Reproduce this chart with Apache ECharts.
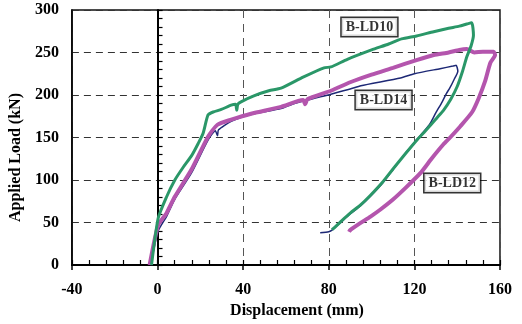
<!DOCTYPE html>
<html>
<head>
<meta charset="utf-8">
<title>Applied Load vs Displacement</title>
<script src="https://cdn.jsdelivr.net/npm/echarts@6/dist/echarts.min.js"></script>
<style>
  html, body { margin: 0; padding: 0; background: #fff; }
  #chart { width: 522px; height: 324px; }
</style>
</head>
<body>
<div id="chart"></div>
<script>
// B-LD10 (green): loading branch then unloading
const ld10X = [-2.8, 0.3, 4.2, 8.1, 12, 16, 19, 21.3, 23.6, 26, 29.8, 34.4, 36.5, 37, 37.5, 39, 45, 52, 57.7, 68, 77.8, 81, 88.7, 100, 108, 114, 121, 129, 136, 141, 144.5, 146.8,
               147.6, 146.5, 144.5, 142.5, 140, 137, 133.6, 130.5, 127.4, 124.5, 121.5, 115.5, 110, 105, 99.5, 95, 90, 86, 82.4, 81.5];
const ld10Y = [0, 55, 80, 100, 115, 129, 143, 155, 176.5, 180, 183, 188, 189, 182, 189, 192, 199, 205, 208, 221, 232, 233, 242, 253, 260, 266, 269.5, 274.5, 278.5, 281, 283.5, 285,
               270.6, 258, 245, 228, 210, 195, 182, 173, 164, 156, 148, 130, 113, 97, 82, 71, 61, 52, 43.5, 41.5];

// B-LD12 (magenta)
const ld12X = [-3.7, 0.3, 4.2, 8, 15.8, 23.6, 28, 34.4, 43.7, 57.7, 68, 69, 70, 81, 90, 100, 110, 121, 129, 136, 141, 144.5,
               148, 152, 157, 157.7, 155.5, 153, 150, 147, 141.4, 136.7, 133.6, 128, 122.8, 116, 110, 104, 99.5, 94, 90, 89.5];
const ld12Y = [0, 47, 61, 80, 112, 151, 165, 171, 178, 186, 194, 189, 195, 205, 215, 224, 232, 241, 247, 250, 253, 254,
               250, 251, 251, 247, 238, 216, 196, 180, 163, 150, 142, 125, 108, 91, 77, 65, 57, 48, 41, 39];

// B-LD14 (navy)
const ld14X = [-3.3, 0.3, 4.2, 8, 15.8, 23.6, 27, 28, 28.5, 34.4, 43.7, 57.7, 64, 81, 90, 95, 113.5, 120, 132, 138, 139.5,
               140.3, 138.5, 136.5, 135, 133, 130, 127, 121, 115, 110, 105, 99.5, 95, 90, 86, 82, 80, 76];
const ld14Y = [0, 40, 57, 77, 108, 147, 158, 152, 159, 169, 177, 184, 190, 201, 207, 211, 220, 225, 231, 234, 235,
               228, 218, 208, 202, 192, 179, 165, 147, 129, 112, 96, 81, 70, 60, 51, 42, 39, 38];

const labelNames = ['B-LD10', 'B-LD14', 'B-LD12'];
const labelX = [99, 105.6, 137.7];
const labelY = [280, 194, 96.5];

const xTicks = [-40, 0, 40, 80, 120, 160];
const yTicks = [0, 50, 100, 150, 200, 250, 300];

const serif = '"Liberation Serif", "DejaVu Serif", serif';

function pairs(xs, ys) {
    return xs.map((x, i) => [x, ys[i]]);
}

function curve(name, xs, ys, color, width) {
    return {
        name: name,
        type: 'line',
        data: pairs(xs, ys),
        showSymbol: false,
        smooth: 0.2,
        xAxisIndex: 0,
        yAxisIndex: 0,
        lineStyle: { color: color, width: width },
        itemStyle: { color: color },
    };
}

const chart = echarts.init(document.getElementById('chart'));

const option = {
    animation: false,
    grid: {
        left: 70, right: 22, top: 10, bottom: 59,
        show: true, borderColor: '#111', borderWidth: 1.5, backgroundColor: '#fff',
    },
    xAxis: [
        {
            type: 'value',
            min: xTicks[0], max: xTicks[xTicks.length - 1], interval: 40,
            name: 'Displacement (mm)',
            nameLocation: 'middle',
            nameGap: 37,
            nameTextStyle: { fontFamily: serif, fontWeight: 'bold', fontSize: 16, color: '#000', padding: [0, 0, 0, 22] },
            axisLine: { show: true, onZero: false, lineStyle: { color: '#000', width: 2 } },
            axisTick: { show: true, inside: false, length: 5, lineStyle: { color: '#000', width: 1.5 } },
            axisLabel: { fontFamily: serif, fontWeight: 'bold', fontSize: 16, color: '#000', margin: 17 },
            splitLine: { show: true, lineStyle: { color: '#555', width: 1, type: [8, 6] } },
        },
        {
            type: 'value',
            min: -40, max: 160, interval: 8,
            position: 'bottom',
            axisLine: { show: false, onZero: false },
            axisTick: { show: true, inside: true, length: 5, lineStyle: { color: '#000', width: 1.2 } },
            axisLabel: { show: false },
            splitLine: { show: false },
        },
    ],
    yAxis: [
        {
            type: 'value',
            min: yTicks[0], max: yTicks[yTicks.length - 1], interval: 50,
            position: 'left',
            name: 'Applied Load (kN)',
            nameLocation: 'middle',
            nameGap: 42,
            nameTextStyle: { fontFamily: serif, fontWeight: 'bold', fontSize: 16, color: '#000', padding: [0, 40, 0, 0] },
            axisLine: { show: true, onZero: false, lineStyle: { color: '#000', width: 1.5 } },
            axisTick: { show: false },
            axisLabel: { fontFamily: serif, fontWeight: 'bold', fontSize: 16, color: '#000', margin: 13 },
            splitLine: { show: true, lineStyle: { color: '#333', width: 1, type: [7, 5] } },
        },
        {
            type: 'value',
            min: 0, max: 300, interval: 10,
            position: 'left',
            axisLine: { show: true, onZero: true, lineStyle: { color: '#000', width: 2 } },
            axisTick: { show: true, inside: true, length: 5, lineStyle: { color: '#000', width: 1.2 } },
            axisLabel: { show: false },
            splitLine: { show: false },
        },
    ],
    series: [
        curve('B-LD14', ld14X, ld14Y, '#1d2875', 1.5),
        curve('B-LD12', ld12X, ld12Y, '#b455ad', 4),
        curve('B-LD10', ld10X, ld10Y, '#2a9768', 3),
        {
            name: 'labels',
            type: 'scatter',
            z: 5,
            symbolSize: 1,
            itemStyle: { color: 'rgba(0,0,0,0)' },
            data: labelNames.map((n, i) => ({ name: n, value: [labelX[i], labelY[i]] })),
            label: {
                show: true,
                position: 'inside',
                formatter: (p) => p.name,
                fontFamily: serif,
                fontWeight: 'bold',
                fontSize: 14,
                color: '#000',
                backgroundColor: '#fff',
                borderColor: '#000',
                borderWidth: 1.5,
                padding: [3, 4, 1, 4],
            },
        },
    ],
};

chart.setOption(option);
</script>
</body>
</html>
